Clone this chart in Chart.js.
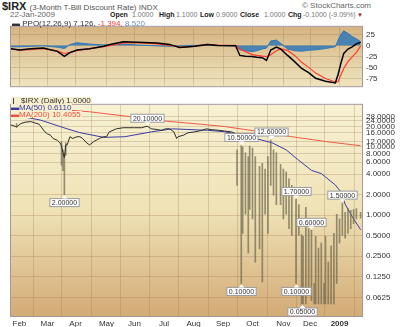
<!DOCTYPE html>
<html>
<head>
<meta charset="utf-8">
<script src="https://cdn.jsdelivr.net/npm/chart.js@4.4.1/dist/chart.umd.min.js"></script>
<style>
  body { margin:0; width:400px; height:327px; overflow:hidden; background:#fff; font-family:Arial,"Liberation Sans",sans-serif; position:relative; }
  .t { position:absolute; white-space:nowrap; line-height:1; }
  .q { position:absolute; top:11px; white-space:nowrap; line-height:1; font-size:7px; color:#777; }
  .q.b { font-weight:bold; color:#222; }
  #ppoBox { position:absolute; left:0; top:18px; width:400px; height:77px; }
  #pxBox { position:absolute; left:0; top:96px; width:400px; height:231px; }
  .leg { position:absolute; white-space:nowrap; font-size:8px; line-height:7px; height:7px; background:#f6efcf; padding-right:1px; }
</style>
</head>
<body>
<div class="t" style="left:2px;top:1px;font-size:11px;font-weight:bold;color:#222">$IRX <span style="font-size:8px;font-weight:normal;color:#555">(3-Month T-Bill Discount Rate) INDX</span></div>
<div class="t" style="left:302px;top:2px;font-size:8px;color:#666">© StockCharts.com</div>
<div class="t" style="left:10px;top:11px;font-size:8px;color:#666">22-Jan-2009</div>
<div class="q b" style="left:110px">Open</div><div class="q" style="left:132px">1.0000</div>
<div class="q b" style="left:159px">High</div><div class="q" style="left:176px">1.1000</div>
<div class="q b" style="left:200px">Low</div><div class="q" style="left:216px">0.9000</div>
<div class="q b" style="left:240px">Close</div><div class="q" style="left:264px">1.0000</div>
<div class="q b" style="left:288px">Chg</div><div class="q" style="left:303px">-0.1000 (-9.09%)</div>
<div class="q" style="left:357px;top:12px;font-size:6px;color:#a0222a">▼</div>

<div id="ppoBox"><canvas id="ppo" width="400" height="77"></canvas></div>
<div id="pxBox"><canvas id="px" width="400" height="231"></canvas></div>

<div class="t" style="left:12px;top:20px;font-size:8px;color:#333">▬ PPO(12,26,9) 7.126, <span style="color:#e8453a">-1.394,</span> <span style="color:#6f8fb8">8.520</span></div>
<div class="leg" style="left:11px;top:97px;color:#333"><span style="display:inline-block;width:5px;height:6px;border-left:1px solid #444;margin:0 2px 0 2px;vertical-align:-1px"></span>$IRX (Daily) 1.0000</div>
<div class="leg" style="left:11px;top:104px;color:#3a3a9c">▬MA(50) 0.6110</div>
<div class="leg" style="left:11px;top:111px;color:#ee5040">▬MA(200) 10.4055</div>

<script>
// x axis = trading day index (0 = 23-Jan-2008 ... 249 = 22-Jan-2009)
const monthDays = [6, 26, 46, 68, 88, 109, 130, 151, 172, 194, 213, 234];
const monthLabels = ['Feb', 'Mar', 'Apr', 'May', 'Jun', 'Jul', 'Aug', 'Sep', 'Oct', 'Nov', 'Dec', '2009'];

// --- price, quiet part drawn as a close line ---
const calmDays = [0,3,4,7,10,14,17,20,22,24,26,28,30,33,35,36,37,38,39,40,42,44,47,49,51,54,56,59,61,63,66,68,70,75,80,84,88,93,97,100,105,107,110,113,116,118,119,123,126,131,136,139,143,148,152,157,160];
const calmClose = [21.0,20.0,19.6,22.0,23.0,23.5,22.5,21.5,19.0,16.7,15.5,14.9,13.3,12.5,11.4,10.3,8.2,7.0,10.7,10.7,14.1,13.3,14.1,14.1,13.3,11.4,10.7,12.0,12.6,13.3,14.1,14.1,16.6,18.4,19.1,19.1,19.1,19.1,20.1,18.4,17.9,17.5,18.4,18.4,16.6,13.3,14.1,14.9,16.1,16.6,17.5,18.4,17.9,17.5,17.1,16.6,15.7];

// --- price, wide daily high-low bars ---
const barDays = [4,36,37,38,39,161,164,165,167,169,170,172,174,177,179,181,183,185,187,189,192,194,196,198,200,203,205,207,208,210,212,214,216,217,219,221,223,224,226,228,230,232,234,236,238,240,242,244,246,249];
const barLow = [19.5,5.4,4.5,2.0,7.5,2.73,0.1,0.54,1.03,0.28,1.21,0.88,0.205,0.32,0.104,1.03,0.54,2.73,1.97,1.43,1.43,0.88,1.03,0.635,0.506,0.1,0.506,0.05,0.05,0.05,0.077,0.056,0.05,0.05,0.05,0.05,0.05,0.05,0.05,0.05,0.05,0.1,0.39,0.506,0.46,0.54,0.635,0.75,0.88,0.9];
const barHigh = [22.0,12,9,8,11.5,9.05,10.5,9.97,8.2,7.2,10.3,9.65,7.2,5.2,5.75,4.73,7.2,12.6,9.05,8.2,5.57,4.73,4.3,3.42,2.73,1.7,1.43,0.52,0.49,1.3,0.635,0.6,0.1,0.49,0.33,0.39,0.1,0.49,0.205,0.355,0.54,1.03,0.88,1.5,1.1,1.25,1.18,1.21,1.25,1.1];

// --- moving averages ---
const ma50Days = [0,21,40,49,66,81,100,115,140,152,167,186,196,204,214,221,231,235,238,243,249];
const ma50Vals = [30,24.7,18.4,16.2,13.8,14.1,16.6,18.4,17.5,16.7,14.5,11.5,9.05,6.6,4.54,4.07,2.77,2.18,1.45,0.95,0.611];
const ma200Days = [0,28,56,81,106,135,152,183,200,224,249];
const ma200Vals = [40.2,36.4,32.7,28.4,24.3,21.5,19.9,16.1,14.1,12.0,10.4];

// --- value tags on the price panel ---
const tagDays = [38, 97, 164, 164, 185, 203, 203, 207, 214, 236];
const tagVals = [2.0, 20.1, 10.5, 0.1, 12.6, 1.7, 0.1, 0.05, 0.6, 1.5];
const tagSide = ['low', 'high', 'high', 'low', 'high', 'high', 'low', 'low', 'high', 'high'];

// --- PPO(12,26,9) ---
const ppoDays = [0,6,14,23,33,38,42,47,56,66,73,80,90,104,113,120,125,131,140,147,160,163,167,172,175,179,182,185,189,192,197,202,207,212,217,224,231,233,235,237,240,243,246,249];
const ppoVals = [-7.5,-10.4,-7.5,-5.7,-13.4,-24.8,-16.1,-10.4,-7.5,-1.7,4.0,8.2,6.9,5.7,2.3,-4.7,-3.5,-1.7,2.3,0,-0.9,-22.6,-24.3,-24.8,-26.6,-27.8,-33.9,-10.4,-3.5,-7.8,-22.6,-36.5,-52,-61.6,-74,-81,-84.5,-65,-40,-18,-8.2,-3.5,3.5,7.1];
const sigVals = [-7.5,-10.4,-9.5,-7.5,-12.2,-18.2,-15.6,-11.6,-7.5,-2.6,0.9,5.7,6.1,3.5,0,-3.5,-3.5,-1.7,2.3,0.9,0,-8.2,-13.9,-20.8,-22.6,-24.3,-25.2,-20.8,-12.2,-7.8,-11.3,-22.6,-38.2,-49.5,-62.5,-74.7,-82.5,-81.6,-66,-52,-36.5,-26,-15.6,-1.7];
const histVals = [-3,-3,-2,-1,-4,-7,2,6,3,1,3,3,1,-1,-2,-2,0,0,1,0,-1,-10,-12,-14,-12,-8,-6,10,12,5,-8,-12,-13,-11,-10,-7,-3,12,25,33,27,20,15,8.5];

const ppoTicks = [25, 0, -25, -50, -75];
const priceTicks = [28, 24, 20, 16, 12, 10, 8, 6, 4, 2, 1, 0.5, 0.25, 0.125, 0.0625];

const pts = (xs, ys) => xs.map((x, i) => ({ x, y: ys[i] }));
const GRID = 'rgba(150,120,80,0.28)';
const TICK_FONT = { family: 'Arial, "Liberation Sans", sans-serif', size: 8 };

// fondo degradado + borde del panel
const panelBg = {
  id: 'panelBg',
  beforeDraw(chart, args, o) {
    const { ctx, chartArea: a } = chart;
    const g = ctx.createLinearGradient(0, a.top, 0, a.bottom);
    o.stops.forEach(([p, c]) => g.addColorStop(p, c));
    ctx.save();
    ctx.fillStyle = g;
    ctx.fillRect(a.left, a.top, a.right - a.left, a.bottom - a.top);
    ctx.restore();
  },
  afterDraw(chart) {
    const { ctx, chartArea: a } = chart;
    ctx.save();
    ctx.strokeStyle = '#a3979a';
    ctx.lineWidth = 1;
    ctx.strokeRect(a.left - 0.5, a.top - 0.5, a.right - a.left + 1, a.bottom - a.top + 1);
    ctx.restore();
  },
};

// etiquetas blancas con flechita (máximos/mínimos)
const valueTags = {
  id: 'valueTags',
  afterDatasetsDraw(chart) {
    const { ctx } = chart;
    const xs = chart.scales.x, ys = chart.scales.y;
    ctx.save();
    ctx.font = '7px Arial, "Liberation Sans", sans-serif';
    ctx.textAlign = 'center';
    ctx.textBaseline = 'middle';
    tagDays.forEach((d, i) => {
      const px = Math.round(xs.getPixelForValue(d)) + 0.5;
      const py = ys.getPixelForValue(tagVals[i]);
      const txt = tagVals[i].toFixed(5);
      const w = ctx.measureText(txt).width + 4, h = 8;
      const up = tagSide[i] === 'high';
      const by = up ? py - 4 - h : py + 4;
      ctx.fillStyle = '#fff';
      ctx.strokeStyle = '#9a9a9a';
      ctx.lineWidth = 1;
      ctx.fillRect(px - w / 2, by, w, h);
      ctx.strokeRect(px - w / 2, by, w, h);
      ctx.beginPath();
      if (up) { ctx.moveTo(px - 3, by + h); ctx.lineTo(px + 3, by + h); ctx.lineTo(px, py - 1); }
      else { ctx.moveTo(px - 3, by); ctx.lineTo(px + 3, by); ctx.lineTo(px, py + 1); }
      ctx.closePath();
      ctx.fill();
      ctx.fillStyle = '#333';
      ctx.fillText(txt, px, by + h / 2 + 0.5);
    });
    ctx.restore();
  },
};

const xBase = {
  type: 'linear', min: 0, max: 250, offset: false,
  afterBuildTicks: (s) => { s.ticks = monthDays.map(v => ({ value: v })); },
  grid: { color: GRID, drawTicks: false },
  border: { display: false },
};

new Chart(document.getElementById('ppo'), {
  type: 'line',
  data: {
    datasets: [
      { data: pts(ppoDays, histVals), borderColor: '#2f78b8', backgroundColor: 'rgba(47,120,184,0.85)', borderWidth: 1, fill: 'origin', pointRadius: 0, order: 3 },
      { data: pts(ppoDays, sigVals), borderColor: '#ff3b2b', borderWidth: 1.2, pointRadius: 0, order: 2 },
      { data: pts(ppoDays, ppoVals), borderColor: '#000', borderWidth: 1.5, pointRadius: 0, order: 1 },
    ],
  },
  options: {
    responsive: false, animation: false, devicePixelRatio: 1,
    layout: { padding: { left: 11, right: 0, top: 0, bottom: 0 } },
    plugins: { legend: { display: false }, tooltip: { enabled: false }, panelBg: { stops: [[0, '#d5b482'], [1, '#efe4be']] } },
    scales: {
      x: { ...xBase, ticks: { display: false }, afterFit: (s) => { s.height = 0; } },
      y: {
        position: 'right', min: -92, max: 42,
        afterBuildTicks: (s) => { s.ticks = ppoTicks.map(v => ({ value: v })); },
        afterFit: (s) => { s.width = 38; },
        grid: { color: GRID, drawTicks: false },
        border: { display: false },
        ticks: { color: '#333', font: TICK_FONT, padding: 4 },
      },
    },
  },
  plugins: [panelBg],
});

new Chart(document.getElementById('px'), {
  type: 'bar',
  data: {
    datasets: [
      { type: 'line', data: pts(ma200Days, ma200Vals), borderColor: '#f05a48', borderWidth: 1, pointRadius: 0, order: 4 },
      { type: 'line', data: pts(ma50Days, ma50Vals), borderColor: '#3c3ca6', borderWidth: 1, pointRadius: 0, order: 3 },
      { type: 'bar', data: barDays.map((d, i) => ({ x: d, y: [barLow[i], barHigh[i]] })), backgroundColor: 'rgba(112,106,80,0.72)', barThickness: 1, grouped: false, order: 2 },
      { type: 'line', data: pts(calmDays, calmClose), borderColor: '#2e2e2a', borderWidth: 1, pointRadius: 0, order: 1 },
    ],
  },
  options: {
    responsive: false, animation: false, devicePixelRatio: 1,
    layout: { padding: { left: 11, right: 0, top: 0, bottom: 0 } },
    plugins: { legend: { display: false }, tooltip: { enabled: false }, panelBg: { stops: [[0, '#f7f1d3'], [0.5, '#efe2b6'], [1, '#d3ab76']] } },
    scales: {
      x: {
        ...xBase,
        afterFit: (s) => { s.height = 11; },
        ticks: {
          color: '#333', padding: 3, maxRotation: 0, autoSkip: false,
          font: (c) => ({ ...TICK_FONT, weight: c.tick && c.tick.value === 234 ? 'bold' : 'normal' }),
          callback: (v) => monthLabels[monthDays.indexOf(v)],
        },
      },
      y: {
        type: 'logarithmic', position: 'right', min: 0.0333, max: 41.4,
        afterBuildTicks: (s) => { s.ticks = priceTicks.map(v => ({ value: v })); },
        afterFit: (s) => { s.width = 38; },
        grid: { color: GRID, drawTicks: false },
        border: { display: false },
        ticks: { color: '#333', font: TICK_FONT, padding: 4, autoSkip: false, callback: (v) => Number(v).toFixed(4) },
      },
    },
  },
  plugins: [panelBg, valueTags],
});
</script>
</body>
</html>
